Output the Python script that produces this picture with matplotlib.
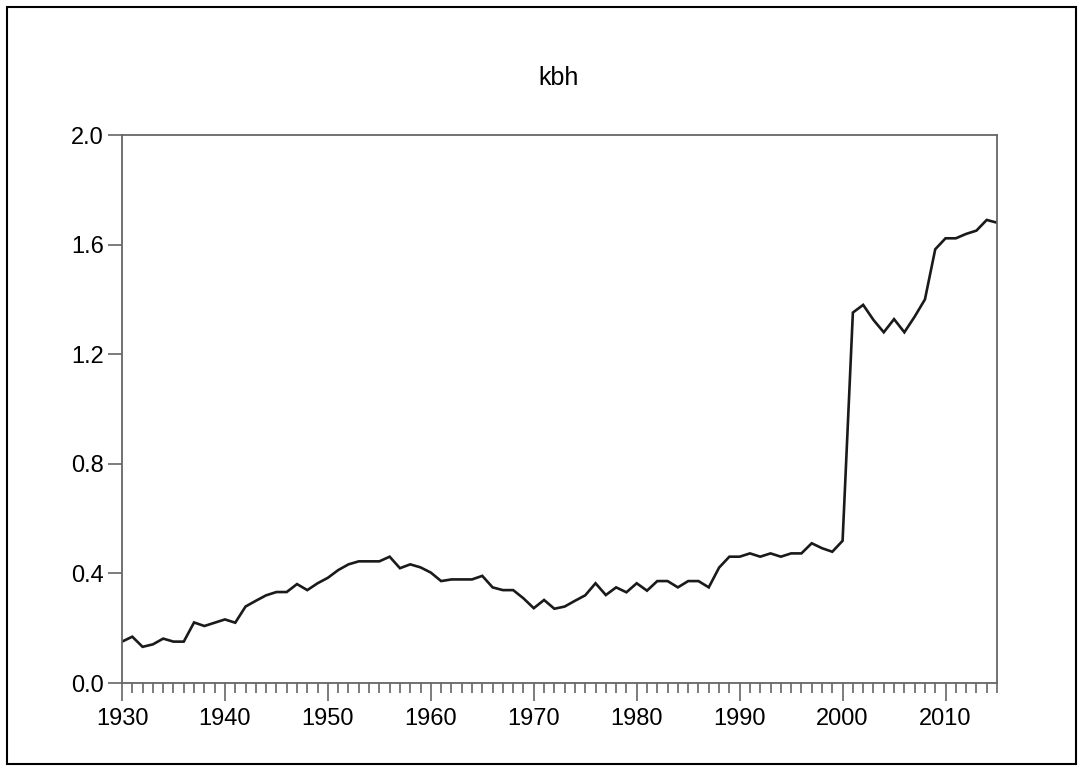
import numpy as np
import matplotlib
matplotlib.use("Agg")
import matplotlib.pyplot as plt
import matplotlib.patches as mpatches
from matplotlib.ticker import MultipleLocator

plt.rcParams["font.family"] = ["Liberation Sans", "DejaVu Sans"]

# annual series, 1930-2015
years = np.arange(1930, 2016)
kbh = [
    0.151, 0.169, 0.132, 0.141, 0.162, 0.151, 0.151, 0.221, 0.208, 0.220,  # 1930s
    0.232, 0.220, 0.279, 0.300, 0.320, 0.332, 0.332, 0.361, 0.339, 0.364,  # 1940s
    0.384, 0.412, 0.433, 0.444, 0.444, 0.444, 0.461, 0.419, 0.433, 0.422,  # 1950s
    0.403, 0.372, 0.378, 0.378, 0.378, 0.391, 0.349, 0.339, 0.339, 0.309,  # 1960s
    0.273, 0.303, 0.271, 0.279, 0.300, 0.320, 0.364, 0.321, 0.349, 0.331,  # 1970s
    0.364, 0.337, 0.372, 0.372, 0.349, 0.372, 0.372, 0.349, 0.421, 0.461,  # 1980s
    0.461, 0.473, 0.461, 0.473, 0.461, 0.473, 0.473, 0.510, 0.492, 0.479,  # 1990s
    0.519, 1.352, 1.380, 1.325, 1.280, 1.328, 1.280, 1.337, 1.400, 1.583,  # 2000s
    1.623, 1.623, 1.639, 1.651, 1.690, 1.680,                              # 2010s
]
y_ticks = [0.0, 0.4, 0.8, 1.2, 1.6, 2.0]
x_ticks = [1930, 1940, 1950, 1960, 1970, 1980, 1990, 2000, 2010]

W, H = 1083, 781
fig = plt.figure(figsize=(W / 100, H / 100), dpi=100)
ax = fig.add_axes([122 / W, 1 - 683 / H, (997 - 122) / W, (683 - 135) / H])

ax.plot(years, kbh, color="#1a1a1a", linewidth=1.9, solid_joinstyle="miter")

ax.set_xlim(1930, 2015)
ax.set_ylim(0, 2.0)
ax.set_xticks(x_ticks)
ax.xaxis.set_minor_locator(MultipleLocator(1))
ax.set_yticks(y_ticks)
ax.set_yticklabels([f"{v:.1f}" for v in y_ticks])

for s in ax.spines.values():
    s.set_color("#666666")
    s.set_linewidth(1.3)

ax.tick_params(axis="both", which="both", colors="#666666", labelcolor="black",
               labelsize=17, width=1.2)
ax.tick_params(axis="y", length=10, pad=3)
ax.tick_params(axis="x", which="major", length=13, pad=5)
ax.tick_params(axis="x", which="minor", length=7)

fig.text(559 / W, 1 - 78 / H, "kbh", ha="center", va="center", fontsize=18)

# outer frame around the whole graph
fig.patches.append(mpatches.Rectangle((7 / W, 1 - 764 / H), (1076 - 7) / W, (764 - 7) / H,
                                      transform=fig.transFigure, fill=False,
                                      edgecolor="black", linewidth=1.5))

fig.savefig("out.png", dpi=100)
plt.close(fig)
